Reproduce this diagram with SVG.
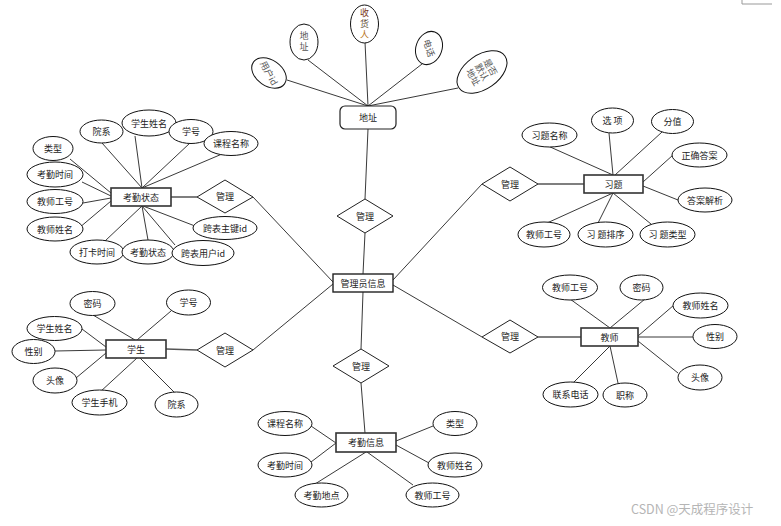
<svg xmlns="http://www.w3.org/2000/svg" width="781" height="526" viewBox="0 0 781 526">
<style>
.e{fill:#fff;stroke:#111;stroke-width:1}
.r{fill:#fff;stroke:#333;stroke-width:1.6}
.d{fill:#fff;stroke:#222;stroke-width:1}
.t{font-family:"Noto Sans CJK SC","Noto Sans",sans-serif;font-size:9px;fill:#222;text-anchor:middle;dominant-baseline:central}
.v{writing-mode:vertical-rl;letter-spacing:2px}
.g{fill:#555}
#connectors line{stroke:#222;stroke-width:0.9}
</style>
<rect width="781" height="526" fill="#fff"/>
<path d="M742 0V4H772" fill="none" stroke="#999" stroke-width="1"/>
<g id="connectors">
<line x1="287" y1="80" x2="368" y2="106"/>
<line x1="308" y1="60" x2="368" y2="106"/>
<line x1="365" y1="42" x2="368" y2="106"/>
<line x1="422" y1="64" x2="368" y2="106"/>
<line x1="458" y1="88" x2="368" y2="106"/>
<line x1="368" y1="129" x2="365" y2="199"/>
<line x1="365" y1="233" x2="363" y2="274"/>
<line x1="253" y1="197" x2="333" y2="282"/>
<line x1="253" y1="350" x2="333" y2="284"/>
<line x1="393" y1="280" x2="482" y2="184"/>
<line x1="393" y1="285" x2="482" y2="337"/>
<line x1="363" y1="292" x2="361" y2="349"/>
<line x1="361" y1="383" x2="365" y2="433"/>
<line x1="171" y1="197" x2="197" y2="197" style="stroke:#555;stroke-width:1.5"/>
<line x1="166" y1="349" x2="197" y2="350" style="stroke:#555;stroke-width:1.5"/>
<line x1="538" y1="184" x2="584" y2="184" style="stroke:#555;stroke-width:1.5"/>
<line x1="538" y1="337" x2="581" y2="337" style="stroke:#555;stroke-width:1.5"/>
<line x1="102" y1="143" x2="142" y2="188"/>
<line x1="135" y1="136" x2="142" y2="188"/>
<line x1="190" y1="143" x2="142" y2="188"/>
<line x1="222" y1="154" x2="142" y2="188"/>
<line x1="70" y1="159" x2="111" y2="193"/>
<line x1="82" y1="182" x2="111" y2="196"/>
<line x1="83" y1="203" x2="111" y2="198"/>
<line x1="79" y1="228" x2="111" y2="201"/>
<line x1="105" y1="241" x2="142" y2="206"/>
<line x1="148" y1="240" x2="142" y2="206"/>
<line x1="175" y1="245" x2="142" y2="206"/>
<line x1="195" y1="226" x2="143" y2="206"/>
<line x1="548" y1="146" x2="613" y2="175"/>
<line x1="609" y1="133" x2="613" y2="175"/>
<line x1="662" y1="132" x2="615" y2="175"/>
<line x1="673" y1="155" x2="643" y2="182"/>
<line x1="678" y1="200" x2="643" y2="186"/>
<line x1="547" y1="223" x2="613" y2="193"/>
<line x1="598" y1="223" x2="613" y2="193"/>
<line x1="651" y1="224" x2="613" y2="193"/>
<line x1="93" y1="315" x2="135" y2="340"/>
<line x1="171" y1="311" x2="137" y2="340"/>
<line x1="82" y1="329" x2="106" y2="347"/>
<line x1="55" y1="351" x2="106" y2="350"/>
<line x1="76" y1="378" x2="106" y2="353"/>
<line x1="100" y1="392" x2="137" y2="358"/>
<line x1="175" y1="393" x2="140" y2="358"/>
<line x1="570" y1="299" x2="610" y2="328"/>
<line x1="645" y1="299" x2="610" y2="328"/>
<line x1="674" y1="305" x2="638" y2="336"/>
<line x1="638" y1="337" x2="693" y2="337"/>
<line x1="638" y1="341" x2="678" y2="373"/>
<line x1="573" y1="383" x2="610" y2="346"/>
<line x1="618" y1="383" x2="610" y2="346"/>
<line x1="311" y1="426" x2="336" y2="443"/>
<line x1="311" y1="462" x2="336" y2="443"/>
<line x1="315" y1="484" x2="366" y2="452"/>
<line x1="433" y1="426" x2="396" y2="441"/>
<line x1="429" y1="463" x2="396" y2="445"/>
<line x1="413" y1="485" x2="367" y2="452"/>
</g>

<g id="dizhi"><rect x="340" y="106" width="56" height="23" rx="5" class="r" style="stroke:#222;stroke-width:1.2"/><text x="368" y="117.5" class="t">地址</text></g>
<g id="a-yonghuid"><ellipse cx="269" cy="73" rx="19" ry="13" transform="rotate(35 269 73)" class="e"/><text x="269" y="73" class="t g" transform="rotate(62 269 73)">用户id</text></g>
<g id="a-dizhi"><ellipse cx="304" cy="42" rx="14" ry="18" class="e"/><text x="304" y="42" class="t g v">地址</text></g>
<g id="a-shouhuoren"><ellipse cx="364.5" cy="24" rx="14" ry="19" class="e"/><text x="364.5" y="25" class="t v" style="fill:#7a3a1a">收<tspan style="fill:#5a4a30">货</tspan><tspan style="fill:#b8741a">人</tspan></text></g>
<g id="a-dianhua"><ellipse cx="429" cy="48" rx="13" ry="17" transform="rotate(20 429 48)" class="e"/><text x="429" y="48" class="t g" transform="rotate(72 429 48)">电话</text></g>
<g id="a-moren"><ellipse cx="482" cy="72" rx="28" ry="17" transform="rotate(-35 482 72)" class="e"/><g transform="rotate(60 482 72)"><text x="482" y="62" class="t g">是否</text><text x="482" y="72" class="t g">默认</text><text x="482" y="82" class="t g">地址</text></g></g>

<g id="guanliyuan"><rect x="333" y="274" width="60" height="18" class="r" style="stroke:#222;stroke-width:1.4"/><text x="363" y="283" class="t">管理员信息</text></g>
<g id="rel-top"><polygon points="365,199 393,216 365,233 337,216" class="d"/><text x="365" y="216" class="t">管理</text></g>
<g id="rel-kq"><polygon points="225,180 253,197 225,213 197,197" class="d"/><text x="225" y="196.5" class="t">管理</text></g>
<g id="rel-xs"><polygon points="225,333 253,350 225,367 197,350" class="d"/><text x="225" y="350" class="t">管理</text></g>
<g id="rel-xt"><polygon points="510,167 538,184 510,201 482,184" class="d"/><text x="510" y="184" class="t">管理</text></g>
<g id="rel-js"><polygon points="510,320 538,337 510,353 482,337" class="d"/><text x="510" y="336.5" class="t">管理</text></g>
<g id="rel-bottom"><polygon points="361,349 389,366 361,383 333,366" class="d"/><text x="361" y="366" class="t">管理</text></g>

<g id="kaoqinzhuangtai"><rect x="111" y="188" width="60" height="18" class="r"/><text x="141" y="197" class="t">考勤状态</text></g>
<g id="k-yuanxi"><ellipse cx="101.5" cy="131.5" rx="21.5" ry="11.5" class="e"/><text x="101.5" y="131.5" class="t">院系</text></g>
<g id="k-xsxm"><ellipse cx="149" cy="123" rx="27" ry="13" class="e"/><text x="149" y="123" class="t">学生姓名</text></g>
<g id="k-xuehao"><ellipse cx="191" cy="131.5" rx="22" ry="12" class="e"/><text x="191" y="131.5" class="t">学号</text></g>
<g id="k-kcmc"><ellipse cx="231" cy="143.5" rx="27" ry="12" class="e"/><text x="231" y="143.5" class="t">课程名称</text></g>
<g id="k-leixing"><ellipse cx="53" cy="148.5" rx="20" ry="12" class="e"/><text x="53" y="148.5" class="t">类型</text></g>
<g id="k-kqsj"><ellipse cx="55" cy="174.5" rx="28" ry="12.5" class="e"/><text x="55" y="174.5" class="t">考勤时间</text></g>
<g id="k-jsgh"><ellipse cx="55" cy="201.5" rx="28" ry="12" class="e"/><text x="55" y="201.5" class="t">教师工号</text></g>
<g id="k-jsxm"><ellipse cx="55" cy="229" rx="28" ry="12" class="e"/><text x="55" y="229" class="t">教师姓名</text></g>
<g id="k-dksj"><ellipse cx="97" cy="252" rx="27" ry="12" class="e"/><text x="97" y="252" class="t">打卡时间</text></g>
<g id="k-kqzt"><ellipse cx="148" cy="252" rx="26" ry="12" class="e"/><text x="148" y="252" class="t">考勤状态</text></g>
<g id="k-kbyhid"><ellipse cx="203" cy="253" rx="31" ry="12.5" class="e"/><text x="203" y="253" class="t">跨表用户id</text></g>
<g id="k-kbzjid"><ellipse cx="225" cy="228" rx="32" ry="11.5" class="e"/><text x="225" y="228" class="t">跨表主键id</text></g>

<g id="xiti"><rect x="584" y="175" width="59" height="18" class="r"/><text x="613.5" y="184" class="t">习题</text></g>
<g id="x-xtmc"><ellipse cx="549.5" cy="135" rx="27.5" ry="12" class="e"/><text x="549.5" y="135" class="t">习题名称</text></g>
<g id="x-xuanxiang"><ellipse cx="612.5" cy="120.5" rx="21" ry="12.5" class="e"/><text x="612.5" y="120.5" class="t">选 项</text></g>
<g id="x-fenzhi"><ellipse cx="672.5" cy="121.5" rx="21" ry="12" class="e"/><text x="672.5" y="121.5" class="t">分值</text></g>
<g id="x-zqda"><ellipse cx="699.5" cy="155" rx="27.5" ry="12" class="e"/><text x="699.5" y="155" class="t">正确答案</text></g>
<g id="x-dajx"><ellipse cx="705" cy="200" rx="27" ry="12" class="e"/><text x="705" y="200" class="t">答案解析</text></g>
<g id="x-jsgh"><ellipse cx="544" cy="234.5" rx="26" ry="12.5" class="e"/><text x="544" y="234.5" class="t">教师工号</text></g>
<g id="x-xtpx"><ellipse cx="605.5" cy="234.5" rx="27.5" ry="12.5" class="e"/><text x="605.5" y="234.5" class="t">习 题排序</text></g>
<g id="x-xtlx"><ellipse cx="667.5" cy="234.5" rx="27.5" ry="12.5" class="e"/><text x="667.5" y="234.5" class="t">习 题类型</text></g>

<g id="xuesheng"><rect x="106" y="340" width="60" height="18" class="r"/><text x="136" y="349" class="t">学生</text></g>
<g id="s-mima"><ellipse cx="92.5" cy="303.5" rx="22.5" ry="12" class="e"/><text x="92.5" y="303.5" class="t">密码</text></g>
<g id="s-xuehao"><ellipse cx="188.5" cy="302.5" rx="22" ry="12.5" class="e"/><text x="188.5" y="302.5" class="t">学号</text></g>
<g id="s-xsxm"><ellipse cx="54.5" cy="328.5" rx="27.5" ry="12" class="e"/><text x="54.5" y="328.5" class="t">学生姓名</text></g>
<g id="s-xingbie"><ellipse cx="33.5" cy="351.5" rx="21.5" ry="12" class="e"/><text x="33.5" y="351.5" class="t">性别</text></g>
<g id="s-touxiang"><ellipse cx="55" cy="380.5" rx="22" ry="12.5" class="e"/><text x="55" y="380.5" class="t">头像</text></g>
<g id="s-xssj"><ellipse cx="99.5" cy="402.5" rx="27.5" ry="12.5" class="e"/><text x="99.5" y="402.5" class="t">学生手机</text></g>
<g id="s-yuanxi"><ellipse cx="176.5" cy="404.5" rx="21.5" ry="12.5" class="e"/><text x="176.5" y="404.5" class="t">院系</text></g>

<g id="jiaoshi"><rect x="581" y="328" width="57" height="18" class="r"/><text x="609.5" y="337" class="t">教师</text></g>
<g id="j-jsgh"><ellipse cx="570" cy="287.5" rx="27.5" ry="12.5" class="e"/><text x="570" y="287.5" class="t">教师工号</text></g>
<g id="j-mima"><ellipse cx="641.5" cy="287.5" rx="21.5" ry="12.5" class="e"/><text x="641.5" y="287.5" class="t">密码</text></g>
<g id="j-jsxm"><ellipse cx="700.5" cy="305.5" rx="27.5" ry="12.5" class="e"/><text x="700.5" y="305.5" class="t">教师姓名</text></g>
<g id="j-xingbie"><ellipse cx="715" cy="336.5" rx="22" ry="12" class="e"/><text x="715" y="336.5" class="t">性别</text></g>
<g id="j-touxiang"><ellipse cx="700" cy="377.5" rx="22" ry="12.5" class="e"/><text x="700" y="377.5" class="t">头像</text></g>
<g id="j-lxdh"><ellipse cx="570.5" cy="394.5" rx="27.5" ry="12.5" class="e"/><text x="570.5" y="394.5" class="t">联系电话</text></g>
<g id="j-zhicheng"><ellipse cx="625" cy="395" rx="22" ry="12" class="e"/><text x="625" y="395" class="t">职称</text></g>

<g id="kaoqinxinxi"><rect x="336" y="433" width="60" height="19" class="r"/><text x="366" y="442.5" class="t">考勤信息</text></g>
<g id="q-kcmc"><ellipse cx="285" cy="423.5" rx="27" ry="12" class="e"/><text x="285" y="423.5" class="t">课程名称</text></g>
<g id="q-kqsj"><ellipse cx="285" cy="465" rx="27" ry="12" class="e"/><text x="285" y="465" class="t">考勤时间</text></g>
<g id="q-kqdd"><ellipse cx="321.5" cy="495" rx="26.5" ry="12" class="e"/><text x="321.5" y="495" class="t">考勤地点</text></g>
<g id="q-leixing"><ellipse cx="455" cy="423.5" rx="22" ry="12" class="e"/><text x="455" y="423.5" class="t">类型</text></g>
<g id="q-jsxm"><ellipse cx="455" cy="465" rx="27" ry="12" class="e"/><text x="455" y="465" class="t">教师姓名</text></g>
<g id="q-jsgh"><ellipse cx="432.5" cy="495" rx="26.5" ry="12" class="e"/><text x="432.5" y="495" class="t">教师工号</text></g>

<text x="318" y="543" style="font-family:'Noto Sans CJK SC',serif;font-size:20px;fill:#222">图</text>
<text x="380" y="543" style="font-family:'Liberation Serif',serif;font-size:20px;fill:#222">E-R</text>
<text x="458" y="543" style="font-family:'Noto Sans CJK SC',serif;font-size:20px;fill:#222">图</text>

<text x="631" y="514" style="font-family:'Noto Sans CJK SC','Noto Sans',sans-serif;font-size:12.5px;fill:#b5b5b5">CSDN @天成程序设计</text>
</svg>
